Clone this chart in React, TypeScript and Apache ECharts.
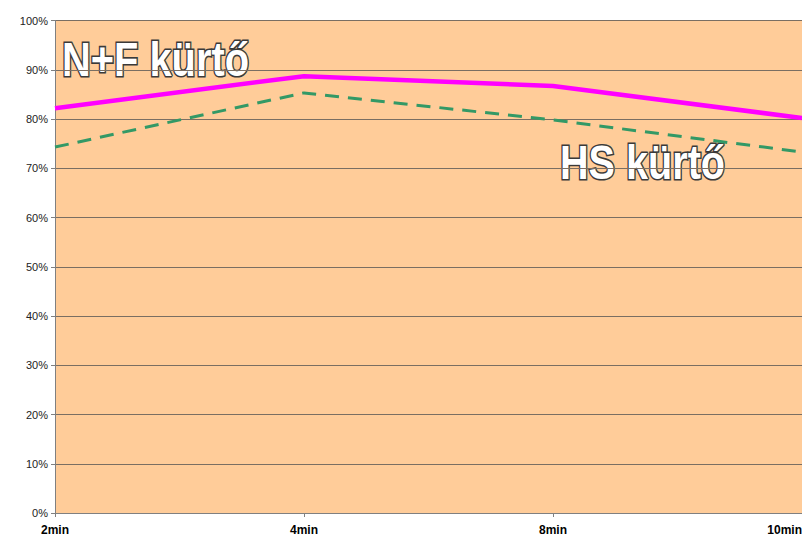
import React, { useEffect, useRef } from "react";
import * as echarts from "echarts";

const categories = ["2min", "4min", "8min", "10min"];
const nfValues = [0.822, 0.887, 0.867, 0.802];
const hsValues = [0.743, 0.853, 0.798, 0.733];
const yTicks = [0, 0.1, 0.2, 0.3, 0.4, 0.5, 0.6, 0.7, 0.8, 0.9, 1];

export default function App() {
  const ref = useRef<HTMLDivElement>(null);

  useEffect(() => {
    if (!ref.current) return;
    const chart = echarts.init(ref.current, null, { renderer: "svg" });
    const labelStyle = {
      fill: "#ffffff",
      stroke: "#3a3a3a",
      lineWidth: 3.2,
      fontSize: 48,
      fontWeight: "bold",
      fontFamily: "'Liberation Sans Narrow', 'Arial Narrow', Arial, 'Liberation Sans', sans-serif",
    };
    chart.setOption({
      animation: false,
      backgroundColor: "#ffffff",
      grid: {
        left: 55,
        right: 0,
        top: 20.5,
        bottom: 26,
        containLabel: false,
        outerBoundsMode: "none",
        show: true,
        backgroundColor: "#ffcc99",
        borderWidth: 0,
        z: 0,
      },
      xAxis: {
        type: "category",
        data: categories,
        boundaryGap: false,
        z: 1,
        axisLine: { lineStyle: { color: "#808080", width: 1 } },
        axisTick: { alignWithLabel: true, length: 4, lineStyle: { color: "#808080" } },
        axisLabel: {
          color: "#000000",
          fontWeight: "bold",
          fontSize: 12,
          fontFamily: "Arial, 'Liberation Sans', sans-serif",
          margin: 11,
          showMaxLabel: true,
          hideOverlap: false,
          alignMaxLabel: "right",
        },
        splitLine: { show: false },
      },
      yAxis: {
        type: "value",
        min: yTicks[0],
        max: yTicks[yTicks.length - 1],
        interval: 0.1,
        z: 1,
        axisLine: { show: true, lineStyle: { color: "#808080", width: 1 } },
        axisTick: { show: true, length: 4, lineStyle: { color: "#808080" } },
        axisLabel: {
          color: "#222222",
          fontSize: 11,
          fontFamily: "Arial, 'Liberation Sans', sans-serif",
          margin: 7,
          formatter: (v: number) => `${Math.round(v * 100)}%`,
        },
        splitLine: { show: true, lineStyle: { color: "#7a6e62", width: 1 } },
      },
      series: [
        {
          name: "N+F kürtő",
          type: "line",
          data: nfValues,
          symbol: "none",
          lineStyle: { color: "#ff00ff", width: 4.5 },
          z: 3,
        },
        {
          name: "HS kürtő",
          type: "line",
          data: hsValues,
          symbol: "none",
          lineStyle: { color: "#339966", width: 3, type: [14, 9] },
          z: 2,
        },
      ],
      graphic: [
        {
          type: "text",
          x: 62,
          y: 35,
          scaleX: 0.83,
          z: 0.5,
          style: { ...labelStyle, text: "N+F kürtő" },
        },
        {
          type: "text",
          x: 560,
          y: 138,
          scaleX: 0.825,
          z: 0.5,
          style: { ...labelStyle, text: "HS kürtő" },
        },
      ],
    });
    return () => chart.dispose();
  }, []);

  return (
    <div
      ref={ref}
      style={{ position: "fixed", left: 0, top: 0, width: 802, height: 539 }}
    />
  );
}
